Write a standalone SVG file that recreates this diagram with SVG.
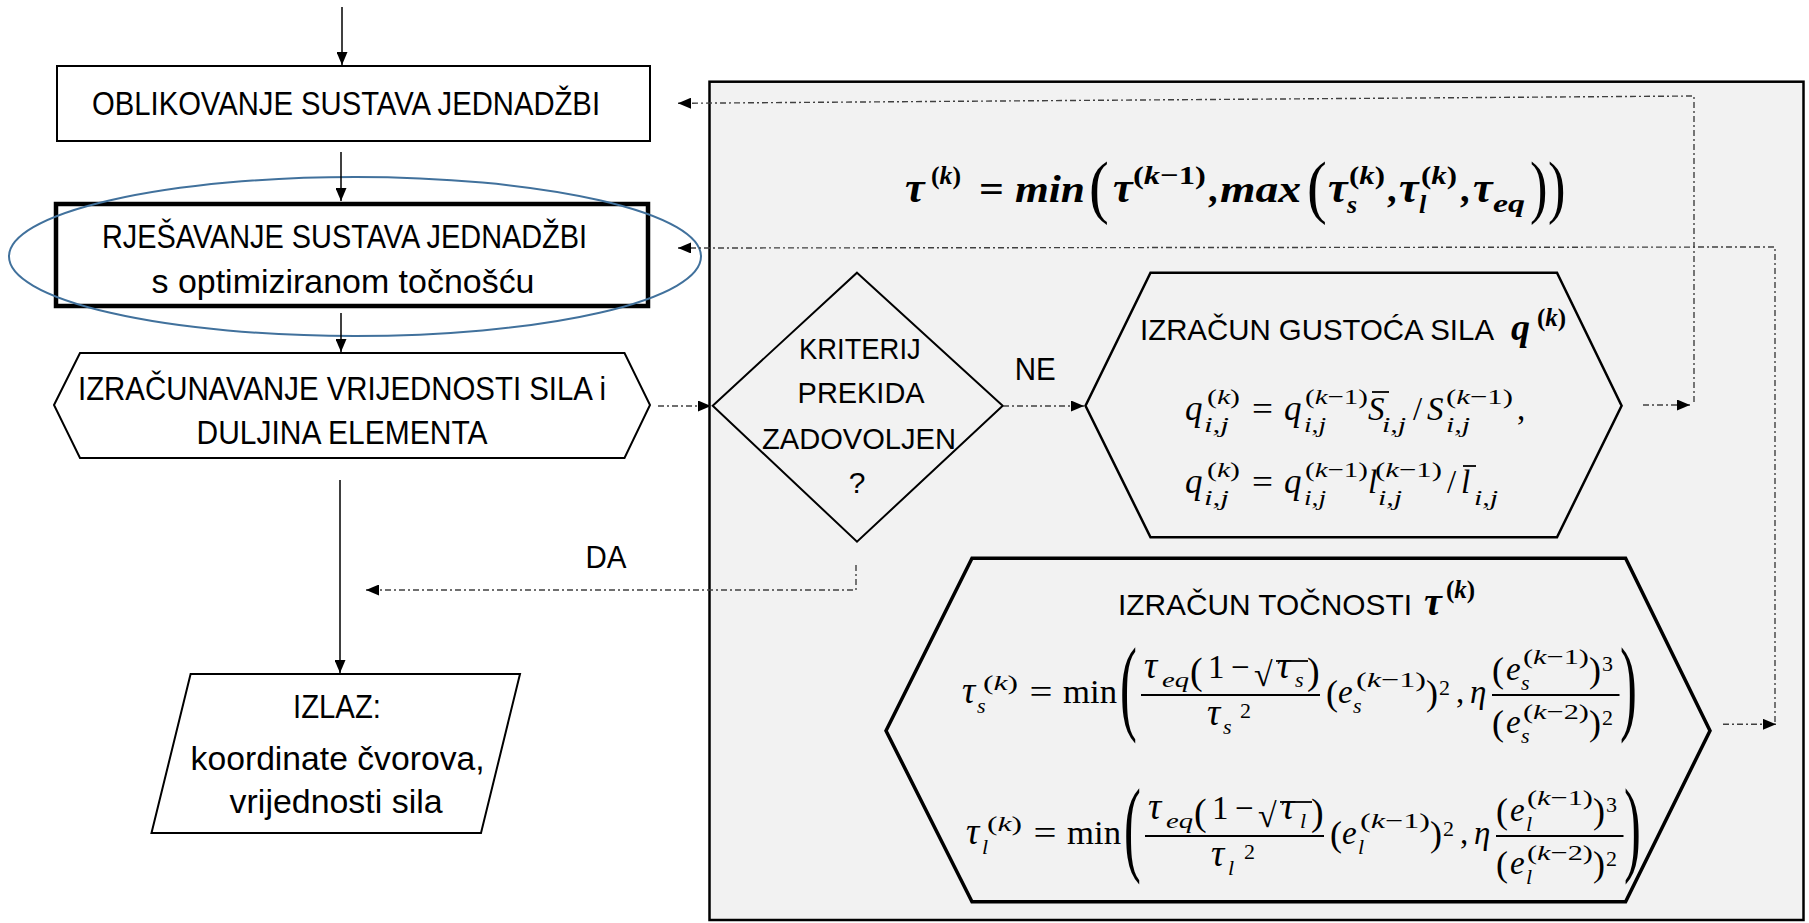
<svg xmlns="http://www.w3.org/2000/svg" width="1809" height="923" viewBox="0 0 1809 923">
<style>
.t{font-family:"Liberation Sans",Arial,sans-serif;font-size:33px;fill:#000}
.m{font-family:"Liberation Serif","DejaVu Serif",serif;font-size:33px;fill:#000}
.i{font-style:italic}
.b{font-weight:bold}
.s{font-size:22px}
.node{fill:#fff;stroke:#000;stroke-width:2}
.solid{fill:none;stroke:#000;stroke-width:1.5}
.dash{fill:none;stroke:#404040;stroke-width:1.4;stroke-dasharray:6 3 2 3}
.bar{stroke:#000;stroke-width:1.8}
.bigp{font-family:"Liberation Serif","DejaVu Serif",serif;font-size:44px}
.topp{font-family:"Liberation Serif","DejaVu Serif",serif;font-size:70px}
</style>
<defs>
<marker id="ah" viewBox="0 0 13 11" refX="13" refY="5.5" markerWidth="13" markerHeight="11" markerUnits="userSpaceOnUse" orient="auto"><path d="M0,0 L13,5.5 L0,11 z" fill="#000"/></marker>
</defs>
<rect width="1809" height="923" fill="#fff"/>

<g id="panel">
<rect x="709.5" y="81.7" width="1094" height="838.3" fill="#f2f2f2" stroke="#000" stroke-width="2.5"/>
</g>

<g id="oblikovanje">
<rect class="node" x="57" y="66" width="593" height="75"/>
<text class="t" x="92" y="115" textLength="508" lengthAdjust="spacingAndGlyphs">OBLIKOVANJE SUSTAVA JEDNADŽBI</text>
</g>

<g id="rjesavanje">
<rect x="56" y="204" width="592" height="102" fill="#fff" stroke="#000" stroke-width="4.5"/>
<text class="t" x="102" y="248" textLength="485" lengthAdjust="spacingAndGlyphs">RJEŠAVANJE SUSTAVA JEDNADŽBI</text>
<text class="t" x="151.5" y="293" textLength="383" lengthAdjust="spacingAndGlyphs">s optimiziranom točnošću</text>
</g>

<g id="highlight">
<ellipse cx="355" cy="256.5" rx="346" ry="79.5" fill="none" stroke="#41719c" stroke-width="2"/>
</g>

<g id="izracunavanje">
<polygon class="node" points="54,405 80,353 624.5,353 650,405 624.5,458 80,458"/>
<text class="t" x="78" y="400" textLength="528" lengthAdjust="spacingAndGlyphs">IZRAČUNAVANJE VRIJEDNOSTI SILA i</text>
<text class="t" x="196.5" y="444" textLength="291" lengthAdjust="spacingAndGlyphs">DULJINA ELEMENTA</text>
</g>

<g id="izlaz">
<polygon class="node" points="190.6,674 520,674 481,833 151.5,833"/>
<text class="t" x="293" y="718" textLength="88" lengthAdjust="spacingAndGlyphs">IZLAZ:</text>
<text class="t" x="190.6" y="770" textLength="294" lengthAdjust="spacingAndGlyphs">koordinate čvorova,</text>
<text class="t" x="229.6" y="813" textLength="213" lengthAdjust="spacingAndGlyphs">vrijednosti sila</text>
</g>

<g id="kriterij">
<polygon points="857,272.7 1002.7,405.7 857,541.7 712.7,405.7" fill="none" stroke="#000" stroke-width="2"/>
<text class="t" x="799" y="359" textLength="121.7" lengthAdjust="spacingAndGlyphs" style="font-size:30px">KRITERIJ</text>
<text class="t" x="797.6" y="403" textLength="127" lengthAdjust="spacingAndGlyphs" style="font-size:30px">PREKIDA</text>
<text class="t" x="762" y="449" textLength="194" lengthAdjust="spacingAndGlyphs" style="font-size:30px">ZADOVOLJEN</text>
<text class="t" x="857" y="493" text-anchor="middle" style="font-size:30px">?</text>
</g>

<g id="formula-tau" class="m">
<text x="905" y="202" class="i b" style="font-size:44px">τ</text>
<text x="931" y="184" class="b" style="font-size:26px" textLength="30" lengthAdjust="spacingAndGlyphs">(<tspan class="i">k</tspan>)</text>
<text x="979" y="202" class="b" style="font-size:38px" textLength="25" lengthAdjust="spacingAndGlyphs">=</text>
<text x="1015" y="202" class="i b" style="font-size:38px" textLength="70" lengthAdjust="spacingAndGlyphs">min</text>
<text class="topp" transform="translate(1089,210) scale(0.85,1)">(</text>
<text x="1113" y="202" class="i b" style="font-size:44px">τ</text>
<text x="1133" y="184" class="b" style="font-size:26px" textLength="73" lengthAdjust="spacingAndGlyphs">(<tspan class="i">k</tspan>−1)</text>
<text x="1208" y="202" class="b" style="font-size:38px">,</text>
<text x="1220" y="202" class="i b" style="font-size:38px" textLength="81" lengthAdjust="spacingAndGlyphs">max</text>
<text class="topp" transform="translate(1307,210) scale(0.85,1)">(</text>
<text x="1328" y="202" class="i b" style="font-size:44px">τ</text>
<text x="1347" y="213" class="i b" style="font-size:26px">s</text>
<text x="1349" y="184" class="b" style="font-size:26px" textLength="36" lengthAdjust="spacingAndGlyphs">(<tspan class="i">k</tspan>)</text>
<text x="1387" y="202" class="b" style="font-size:38px">,</text>
<text x="1399" y="202" class="i b" style="font-size:44px">τ</text>
<text x="1419" y="213" class="i b" style="font-size:26px">l</text>
<text x="1421" y="184" class="b" style="font-size:26px" textLength="36" lengthAdjust="spacingAndGlyphs">(<tspan class="i">k</tspan>)</text>
<text x="1460" y="202" class="b" style="font-size:38px">,</text>
<text x="1473" y="202" class="i b" style="font-size:44px">τ</text>
<text x="1493" y="212" class="i b" style="font-size:26px" textLength="32" lengthAdjust="spacingAndGlyphs">eq</text>
<text class="topp" transform="translate(1530,210) scale(0.75,1)">)</text>
<text class="topp" transform="translate(1548,210) scale(0.75,1)">)</text>
</g>

<g id="gustoca">
<polygon points="1085.5,405.7 1150.5,272.7 1557,272.7 1621.6,405.7 1557,537.3 1150.5,537.3" fill="none" stroke="#000" stroke-width="2.5"/>
<text class="t" x="1140" y="340" textLength="354" lengthAdjust="spacingAndGlyphs" style="font-size:30px">IZRAČUN GUSTOĆA SILA</text>
<text class="m b" x="1511" y="340" style="font-size:38px"><tspan class="i">q</tspan><tspan x="1537" y="326" style="font-size:25px">(<tspan class="i">k</tspan>)</tspan></text>
<g class="m">
<text x="1185" y="420" class="i" style="font-size:35px">q</text>
<text x="1207" y="404" class="s" textLength="33" lengthAdjust="spacingAndGlyphs">(<tspan class="i">k</tspan>)</text>
<text x="1204" y="432" class="s i" textLength="25" lengthAdjust="spacingAndGlyphs">i,j</text>
<text x="1252" y="420" textLength="21" lengthAdjust="spacingAndGlyphs">=</text>
<text x="1284" y="420" class="i" style="font-size:35px">q</text>
<text x="1305" y="404" class="s" textLength="63" lengthAdjust="spacingAndGlyphs">(<tspan class="i">k</tspan>−1)</text>
<text x="1304" y="432" class="s i" textLength="22" lengthAdjust="spacingAndGlyphs">i,j</text>
<text x="1368" y="420" class="i">S</text>
<line class="bar" x1="1372" y1="392" x2="1389" y2="392"/>
<text x="1382" y="432" class="s i" textLength="24" lengthAdjust="spacingAndGlyphs">i,j</text>
<text x="1413" y="420">/</text>
<text x="1427" y="420" class="i">S</text>
<text x="1446" y="404" class="s" textLength="67" lengthAdjust="spacingAndGlyphs">(<tspan class="i">k</tspan>−1)</text>
<text x="1446" y="432" class="s i" textLength="24" lengthAdjust="spacingAndGlyphs">i,j</text>
<text x="1517" y="420">,</text>

<text x="1185" y="493" class="i" style="font-size:35px">q</text>
<text x="1207" y="477" class="s" textLength="33" lengthAdjust="spacingAndGlyphs">(<tspan class="i">k</tspan>)</text>
<text x="1204" y="505" class="s i" textLength="25" lengthAdjust="spacingAndGlyphs">i,j</text>
<text x="1252" y="493" textLength="21" lengthAdjust="spacingAndGlyphs">=</text>
<text x="1284" y="493" class="i" style="font-size:35px">q</text>
<text x="1305" y="477" class="s" textLength="63" lengthAdjust="spacingAndGlyphs">(<tspan class="i">k</tspan>−1)</text>
<text x="1304" y="505" class="s i" textLength="22" lengthAdjust="spacingAndGlyphs">i,j</text>
<text x="1368" y="493" class="i">l</text>
<text x="1375" y="477" class="s" textLength="67" lengthAdjust="spacingAndGlyphs">(<tspan class="i">k</tspan>−1)</text>
<text x="1378" y="505" class="s i" textLength="24" lengthAdjust="spacingAndGlyphs">i,j</text>
<text x="1447" y="493">/</text>
<text x="1461" y="493" class="i">l</text>
<line class="bar" x1="1463" y1="466" x2="1476" y2="466"/>
<text x="1474" y="505" class="s i" textLength="24" lengthAdjust="spacingAndGlyphs">i,j</text>
</g>
</g>

<g id="tocnost">
<polygon points="886,730.7 972,558.3 1625.6,558.3 1710,730.7 1625.6,901.7 972,901.7" fill="none" stroke="#000" stroke-width="3.5"/>
<text class="t" x="1118" y="615" textLength="294" lengthAdjust="spacingAndGlyphs" style="font-size:30px">IZRAČUN TOČNOSTI</text>
<text class="m b" x="1424" y="615" style="font-size:40px"><tspan class="i">τ</tspan><tspan x="1446" y="598" style="font-size:25px">(<tspan class="i">k</tspan>)</tspan></text>
<g class="m" id="f-tau-s">
<text x="962" y="703" class="i" style="font-size:37px">τ</text>
<text x="977" y="713" class="s i">s</text>
<text x="983" y="690" class="s" textLength="35" lengthAdjust="spacingAndGlyphs">(<tspan class="i">k</tspan>)</text>
<text x="1029.5" y="703" textLength="23" lengthAdjust="spacingAndGlyphs">=</text>
<text x="1063" y="703" textLength="54" lengthAdjust="spacingAndGlyphs">min</text>
<text class="bigp" transform="translate(1120,721) scale(1.15,2.4)">(</text>
<line class="bar" x1="1141" y1="695" x2="1320" y2="695"/>
<text x="1144" y="678" class="i" style="font-size:37px">τ</text>
<text x="1162" y="687" class="s i" textLength="27" lengthAdjust="spacingAndGlyphs">eq</text>
<text x="1190" y="684" style="font-size:38px">(</text>
<text x="1208" y="678">1</text>
<text x="1231" y="678">−</text>
<text x="1254" y="686" style="font-size:34px">√</text>
<line class="bar" x1="1276" y1="661" x2="1308" y2="661"/>
<text x="1277" y="678" class="i" style="font-size:37px">τ</text>
<text x="1295" y="687" class="s i">s</text>
<text x="1307" y="684" style="font-size:38px">)</text>
<text x="1207" y="725" class="i" style="font-size:37px">τ</text>
<text x="1223" y="734" class="s i">s</text>
<text x="1240" y="718" class="s">2</text>
<text x="1326" y="705" style="font-size:36px">(</text>
<text x="1338" y="703" class="i">e</text>
<text x="1353" y="713" class="s i">s</text>
<text x="1356" y="687" class="s" textLength="70" lengthAdjust="spacingAndGlyphs">(<tspan class="i">k</tspan>−1)</text>
<text x="1426" y="705" style="font-size:36px">)</text>
<text x="1439" y="695" class="s">2</text>
<text x="1456" y="703">,</text>
<text x="1470" y="703" class="i">η</text>
<line class="bar" x1="1492" y1="695" x2="1619.5" y2="695"/>
<text x="1492" y="682" style="font-size:36px">(</text>
<text x="1506" y="680" class="i">e</text>
<text x="1521" y="690" class="s i">s</text>
<text x="1523" y="664" class="s" textLength="66" lengthAdjust="spacingAndGlyphs">(<tspan class="i">k</tspan>−1)</text>
<text x="1589" y="682" style="font-size:36px">)</text>
<text x="1602" y="671" class="s">3</text>
<text x="1492" y="735" style="font-size:36px">(</text>
<text x="1506" y="733" class="i">e</text>
<text x="1521" y="743" class="s i">s</text>
<text x="1523" y="719" class="s" textLength="66" lengthAdjust="spacingAndGlyphs">(<tspan class="i">k</tspan>−2)</text>
<text x="1589" y="735" style="font-size:36px">)</text>
<text x="1602" y="725" class="s">2</text>
<text class="bigp" transform="translate(1620,721) scale(1.15,2.4)">)</text>
</g>
<g class="m" id="f-tau-l" transform="translate(4,141)">
<text x="962" y="703" class="i" style="font-size:37px">τ</text>
<text x="978" y="713" class="s i">l</text>
<text x="983" y="690" class="s" textLength="35" lengthAdjust="spacingAndGlyphs">(<tspan class="i">k</tspan>)</text>
<text x="1029.5" y="703" textLength="23" lengthAdjust="spacingAndGlyphs">=</text>
<text x="1063" y="703" textLength="54" lengthAdjust="spacingAndGlyphs">min</text>
<text class="bigp" transform="translate(1120,721) scale(1.15,2.4)">(</text>
<line class="bar" x1="1141" y1="695" x2="1320" y2="695"/>
<text x="1144" y="678" class="i" style="font-size:37px">τ</text>
<text x="1162" y="687" class="s i" textLength="27" lengthAdjust="spacingAndGlyphs">eq</text>
<text x="1190" y="684" style="font-size:38px">(</text>
<text x="1208" y="678">1</text>
<text x="1231" y="678">−</text>
<text x="1254" y="686" style="font-size:34px">√</text>
<line class="bar" x1="1276" y1="661" x2="1308" y2="661"/>
<text x="1277" y="678" class="i" style="font-size:37px">τ</text>
<text x="1296" y="687" class="s i">l</text>
<text x="1307" y="684" style="font-size:38px">)</text>
<text x="1207" y="725" class="i" style="font-size:37px">τ</text>
<text x="1224" y="734" class="s i">l</text>
<text x="1240" y="718" class="s">2</text>
<text x="1326" y="705" style="font-size:36px">(</text>
<text x="1338" y="703" class="i">e</text>
<text x="1354" y="713" class="s i">l</text>
<text x="1356" y="687" class="s" textLength="70" lengthAdjust="spacingAndGlyphs">(<tspan class="i">k</tspan>−1)</text>
<text x="1426" y="705" style="font-size:36px">)</text>
<text x="1439" y="695" class="s">2</text>
<text x="1456" y="703">,</text>
<text x="1470" y="703" class="i">η</text>
<line class="bar" x1="1492" y1="695" x2="1619.5" y2="695"/>
<text x="1492" y="682" style="font-size:36px">(</text>
<text x="1506" y="680" class="i">e</text>
<text x="1522" y="690" class="s i">l</text>
<text x="1523" y="664" class="s" textLength="66" lengthAdjust="spacingAndGlyphs">(<tspan class="i">k</tspan>−1)</text>
<text x="1589" y="682" style="font-size:36px">)</text>
<text x="1602" y="671" class="s">3</text>
<text x="1492" y="735" style="font-size:36px">(</text>
<text x="1506" y="733" class="i">e</text>
<text x="1522" y="743" class="s i">l</text>
<text x="1523" y="719" class="s" textLength="66" lengthAdjust="spacingAndGlyphs">(<tspan class="i">k</tspan>−2)</text>
<text x="1589" y="735" style="font-size:36px">)</text>
<text x="1602" y="725" class="s">2</text>
<text class="bigp" transform="translate(1620,721) scale(1.15,2.4)">)</text>
</g>
</g>

<g id="labels">
<text class="t" x="1014.7" y="380" textLength="41" lengthAdjust="spacingAndGlyphs" style="font-size:31px">NE</text>
<text class="t" x="585.5" y="568" textLength="41" lengthAdjust="spacingAndGlyphs" style="font-size:31px">DA</text>
</g>

<g id="connectors">
<line class="solid" x1="342" y1="7" x2="342" y2="65" marker-end="url(#ah)"/>
<line class="solid" x1="341" y1="152" x2="341" y2="201" marker-end="url(#ah)"/>
<line class="solid" x1="341" y1="313" x2="341" y2="352" marker-end="url(#ah)"/>
<line class="solid" x1="340" y1="480" x2="340" y2="673" marker-end="url(#ah)"/>
<line class="dash" x1="658" y1="406" x2="711" y2="406" marker-end="url(#ah)"/>
<line class="dash" x1="1003" y1="406" x2="1084" y2="406" marker-end="url(#ah)"/>
<polyline class="dash" points="856,565 856,590 366,590" marker-end="url(#ah)"/>
<line class="dash" x1="1643" y1="405" x2="1690" y2="405" marker-end="url(#ah)"/>
<polyline class="dash" points="1694,402 1694,96 678,103.3" marker-end="url(#ah)"/>
<line class="dash" x1="1723" y1="724.3" x2="1776" y2="724.3" marker-end="url(#ah)"/>
<polyline class="dash" points="1775,722 1775,247 678,248" marker-end="url(#ah)"/>
</g>
</svg>
